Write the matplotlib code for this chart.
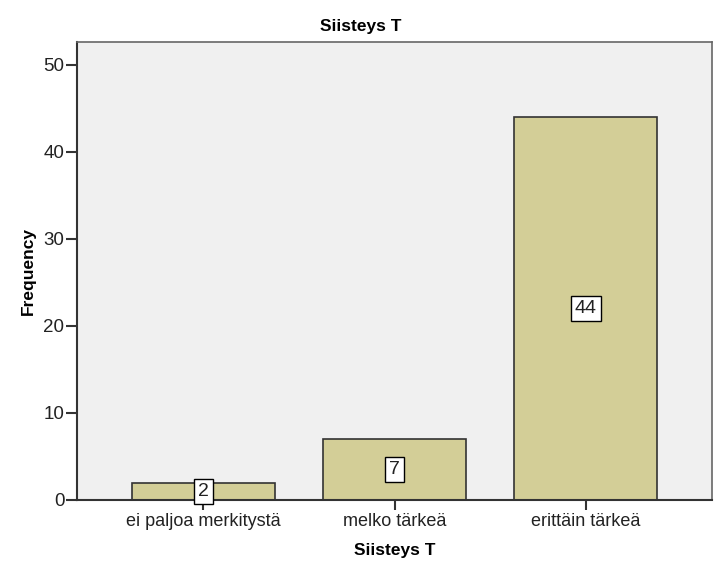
import matplotlib.pyplot as plt

categories = ['ei paljoa merkitystä', 'melko tärkeä', 'erittäin tärkeä']
counts = [2, 7, 44]
yticks = [0, 10, 20, 30, 40, 50]

plt.rcParams['font.family'] = ['Liberation Sans', 'DejaVu Sans']

fig = plt.figure(figsize=(7.22, 5.78), dpi=100)
ax = fig.add_axes([77 / 722, 78 / 578, 635 / 722, 458 / 578])
ax.set_facecolor('#f0f0f0')

x = list(range(len(categories)))
ax.bar(x, counts, width=0.75, color='#d3ce97', edgecolor='#333333', linewidth=1.2, zorder=2)

# value labels in the middle of each bar
for xi, c in zip(x, counts):
    ax.text(xi, c / 2, str(c), ha='center', va='center', fontsize=14, color='#222222', zorder=3,
            bbox=dict(boxstyle='square,pad=0.2', facecolor='white', edgecolor='black', linewidth=1))

ax.set_xlim(-0.66, 2.66)
ax.set_ylim(0, 52.6)
ax.set_xticks(x)
ax.set_xticklabels(categories, fontsize=13, color='#222222')
ax.set_yticks(yticks)
ax.set_yticklabels([str(t) for t in yticks], fontsize=13.5, color='#222222')
ax.tick_params(axis='both', direction='out', length=8, width=1.5, color='#333333', pad=1)
ax.tick_params(axis='x', length=7, pad=2)

for side in ['left', 'bottom']:
    ax.spines[side].set_color('#333333')
    ax.spines[side].set_linewidth(1.5)
for side in ['top', 'right']:
    ax.spines[side].set_color('#666666')
    ax.spines[side].set_linewidth(1.2)

fig.suptitle('Siisteys T', x=0.5, y=1 - 27 / 578, va='center', fontsize=12.5, fontweight='bold')
ax.set_xlabel('Siisteys T', fontsize=12.5, fontweight='bold')
ax.set_ylabel('Frequency', fontsize=12.5, fontweight='bold')
ax.xaxis.set_label_coords(0.5, -50 / 458)
ax.yaxis.set_label_coords(-49 / 635, 0.5)
ax.xaxis.label.set_va('center')
ax.yaxis.label.set_va('center')

fig.savefig('out.png', dpi=100)
